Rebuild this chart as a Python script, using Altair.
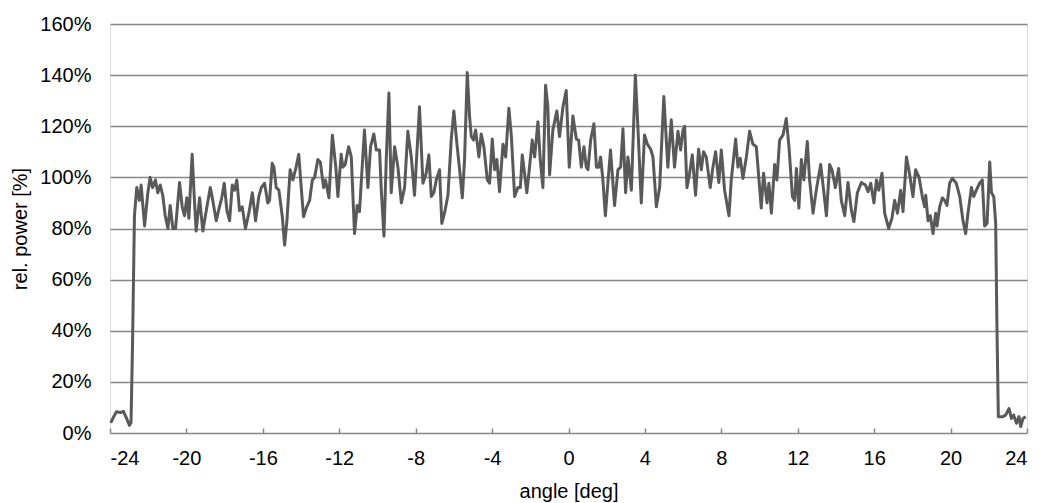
import altair as alt
import pandas as pd

angle_deg = [
    -23.96, -23.80, -23.66, -23.45, -23.30, -23.15, -22.98, -22.90, -22.82, -22.72,
    -22.60, -22.46, -22.37, -22.19, -22.02, -21.90, -21.77, -21.62, -21.50, -21.37,
    -21.24, -21.11, -20.97, -20.85, -20.71, -20.57, -20.36, -20.22, -20.10, -19.98,
    -19.87, -19.70, -19.58, -19.49, -19.31, -19.14, -18.96, -18.75, -18.62, -18.44,
    -18.27, -18.15, -18.02, -17.88, -17.74, -17.60, -17.48, -17.36, -17.22, -17.08,
    -16.91, -16.73, -16.55, -16.38, -16.21, -16.08, -15.91, -15.74, -15.65, -15.51,
    -15.42, -15.30, -15.16, -14.98, -14.86, -14.74, -14.57, -14.43, -14.29, -14.12,
    -13.99, -13.87, -13.70, -13.55, -13.41, -13.29, -13.12, -12.99, -12.82, -12.72,
    -12.54, -12.36, -12.18, -12.07, -11.90, -11.81, -11.69, -11.51, -11.37, -11.20,
    -11.06, -10.94, -10.82, -10.68, -10.50, -10.36, -10.19, -10.06, -9.89, -9.80,
    -9.66, -9.54, -9.40, -9.28, -9.10, -8.93, -8.75, -8.58, -8.41, -8.23,
    -8.06, -7.80, -7.62, -7.45, -7.31, -7.18, -7.05, -6.92, -6.75, -6.63,
    -6.49, -6.31, -6.14, -6.00, -5.84, -5.70, -5.56, -5.44, -5.30, -5.18,
    -5.09, -4.97, -4.86, -4.69, -4.57, -4.43, -4.25, -4.13, -3.99, -3.87,
    -3.75, -3.61, -3.43, -3.29, -3.12, -2.99, -2.82, -2.65, -2.52, -2.42,
    -2.30, -2.18, -2.04, -1.90, -1.77, -1.60, -1.48, -1.34, -1.20, -1.08,
    -0.99, -0.82, -0.61, -0.47, -0.29, -0.12, 0.04, 0.23, 0.41, 0.53,
    0.67, 0.81, 0.93, 1.02, 1.16, 1.33, 1.46, 1.58, 1.68, 1.80,
    1.93, 2.06, 2.20, 2.41, 2.59, 2.73, 2.85, 2.99, 3.11, 3.29,
    3.50, 3.63, 3.81, 3.98, 4.13, 4.30, 4.42, 4.60, 4.77, 4.99,
    5.20, 5.38, 5.55, 5.73, 5.87, 5.99, 6.08, 6.20, 6.34, 6.48,
    6.65, 6.81, 6.95, 7.07, 7.21, 7.42, 7.56, 7.70, 7.87, 8.00,
    8.17, 8.40, 8.52, 8.75, 8.87, 8.99, 9.13, 9.31, 9.48, 9.65,
    9.83, 10.09, 10.21, 10.39, 10.49, 10.62, 10.79, 10.91, 11.05, 11.23,
    11.40, 11.54, 11.72, 11.84, 11.93, 12.06, 12.19, 12.32, 12.50, 12.62,
    12.80, 12.97, 13.20, 13.37, 13.50, 13.67, 13.79, 13.97, 14.14, 14.28,
    14.46, 14.63, 14.81, 14.94, 15.12, 15.33, 15.54, 15.68, 15.82, 15.99,
    16.12, 16.24, 16.41, 16.55, 16.76, 16.93, 17.07, 17.22, 17.39, 17.51,
    17.69, 17.86, 18.03, 18.17, 18.35, 18.52, 18.64, 18.70, 18.82, 18.94,
    19.08, 19.22, 19.29, 19.43, 19.57, 19.69, 19.81, 19.95, 20.09, 20.30,
    20.48, 20.65, 20.79, 20.91, 21.09, 21.21, 21.35, 21.52, 21.66, 21.78,
    21.91, 22.05, 22.14, 22.26, 22.36, 22.43, 22.50, 22.74, 22.88, 23.06,
    23.18, 23.30, 23.45, 23.58, 23.67, 23.79, 23.93,
]

rel_power_pct = [
    4.0, 6.5, 8.3, 8.0, 8.5, 6.0, 3.0, 4.0, 35, 85,
    96, 91, 97, 81, 94, 100, 96, 99, 94, 97,
    93, 85, 80, 89, 80, 80, 98, 88.5, 85, 92,
    84, 109, 91, 79, 92, 79, 87, 96, 91, 83,
    88.5, 92, 97.7, 87, 83, 97, 95, 99, 87, 88.5,
    80, 86, 94, 83, 92.5, 96, 97.7, 90, 91, 105.5,
    104, 96, 95, 84.6, 73.5, 83, 103, 99, 103, 109,
    96, 84.6, 88.5, 91, 99, 100, 107, 106, 96, 99,
    92, 116.5, 104, 92.5, 109, 104, 105, 112, 108, 78,
    89, 86.6, 101.6, 118.5, 96, 112, 117, 110.7, 110.7, 95,
    77, 107, 133, 94, 112, 104, 90, 96, 118, 108,
    93, 127.6, 97.7, 101.6, 108.8, 92.5, 94, 99, 103, 82,
    86, 93, 114.6, 126, 113, 103, 92, 107, 141, 124,
    116, 114.6, 118.5, 108, 117, 112, 99, 97.7, 115, 103,
    107, 94.4, 113, 108, 127, 116, 92.5, 96, 96, 108.8,
    101.6, 94, 104, 114.6, 108, 121.8, 107, 96, 136, 127.6,
    101, 118.5, 126, 116, 127.6, 134, 104, 124, 115, 114.6,
    104, 112, 104, 103, 114.6, 121, 104, 104, 108, 99,
    85, 97.7, 110.7, 89, 103, 104, 119, 94, 108, 95,
    140, 120, 90, 116.6, 113, 111, 108, 88.5, 96, 131.6,
    104, 122.5, 104, 118, 110.7, 118.5, 120, 96, 101.6, 108.8,
    93, 111, 103, 110, 108, 96, 104, 110, 98, 110.7,
    95, 85, 99, 115, 104, 107.5, 99.6, 108, 118, 113,
    112, 88, 101.6, 90, 97.7, 86, 105, 99, 114.6, 116.6,
    123, 112, 92.5, 91, 103.5, 88, 107, 99, 114, 99,
    86, 95, 105, 94, 85, 105, 103, 96, 103.5, 91,
    85, 98, 87, 82.7, 94, 98, 97, 94.4, 97.7, 90,
    99, 95, 101.6, 86, 80, 84, 91, 86, 95, 86.6,
    108, 101, 92.5, 103, 100, 92.5, 88.5, 93, 83, 85,
    78, 86, 81, 88.5, 92, 91, 89, 97.7, 99.6, 97.7,
    92.5, 83, 78, 86, 96, 92.5, 95, 97.7, 99, 81,
    82, 106, 94, 92.5, 82, 40, 6.4, 6.4, 7, 9.6,
    5.7, 7, 3.8, 6.4, 2.5, 5.7, 6.4,
]

x_ticks = [-24, -20, -16, -12, -8, -4, 0, 4, 8, 12, 16, 20, 24]
y_ticks = [0, 20, 40, 60, 80, 100, 120, 140, 160]

df = pd.DataFrame({"angle": angle_deg, "power": rel_power_pct})

FONT = "Liberation Sans"
GRAY = "#868686"

x_scale = alt.Scale(domain=[-24, 24], nice=False, zero=False)
y_scale = alt.Scale(domain=[0, 160], nice=False)

chart = (
    alt.Chart(df)
    .mark_line(color="#595959", strokeWidth=3, strokeJoin="round")
    .encode(
        x=alt.X(
            "angle:Q",
            scale=x_scale,
            axis=alt.Axis(
                values=x_ticks,
                labelExpr="'' + datum.value",
                title="angle [deg]",
                grid=False,
                domain=False,
                offset=-5,
                ticks=True,
                tickSize=5,
                tickColor=GRAY,
                tickWidth=1.5,
                labelFont=FONT,
                labelFontSize=20,
                labelColor="#000000",
                labelPadding=15,
                titleFont=FONT,
                titleFontSize=20,
                titleFontWeight="normal",
                titleColor="#000000",
                titlePadding=13,
            ),
        ),
        y=alt.Y(
            "power:Q",
            scale=y_scale,
            axis=alt.Axis(
                values=y_ticks,
                labelExpr="datum.value + '%'",
                title="rel. power [%]",
                grid=True,
                gridColor=GRAY,
                gridWidth=1.5,
                ticks=False,
                domain=False,
                labelFont=FONT,
                labelFontSize=20,
                labelColor="#000000",
                labelPadding=19,
                titleFont=FONT,
                titleFontSize=20,
                titleFontWeight="normal",
                titleColor="#000000",
                titlePadding=9,
            ),
        ),
    )
    .properties(
        width=917,
        height=409,
        autosize=alt.AutoSizeParams(type="none"),
        padding={"left": 102, "top": 16, "right": 6, "bottom": 76},
    )
    .configure_view(stroke=GRAY, strokeWidth=1.5)
    .configure(background="white")
)

chart.save("out.html", embed_options={"renderer": "svg", "actions": False})
